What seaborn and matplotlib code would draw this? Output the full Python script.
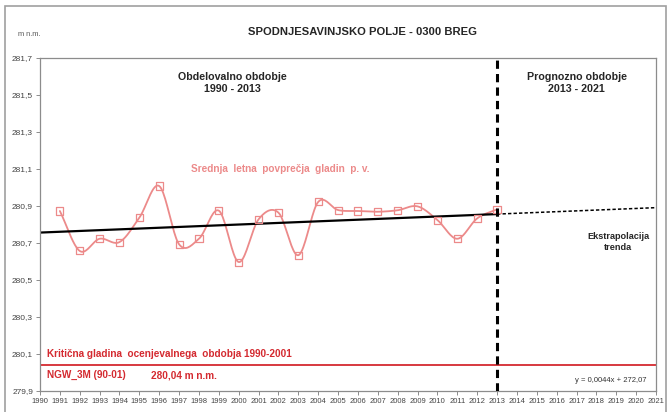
import numpy as np
import pandas as pd
import matplotlib
matplotlib.use("Agg")
import matplotlib.pyplot as plt
from matplotlib.patches import Rectangle
import seaborn as sns

# yearly mean groundwater level (m n.m.)
years = [1991, 1992, 1993, 1994, 1995, 1996, 1997, 1998, 1999, 2000, 2001, 2002,
         2003, 2004, 2005, 2006, 2007, 2008, 2009, 2010, 2011, 2012, 2013]
levels = [280.873, 280.657, 280.723, 280.705, 280.837, 281.008, 280.693, 280.723,
          280.875, 280.597, 280.828, 280.864, 280.634, 280.922, 280.878, 280.873,
          280.869, 280.877, 280.898, 280.824, 280.723, 280.833, 280.882]

critical_level = 280.04
year_ticks = list(range(1990, 2022))
level_ticks = [279.9, 280.1, 280.3, 280.5, 280.7, 280.9, 281.1, 281.3, 281.5, 281.7]

series_color = "#ec8a8a"
crit_color = "#d42a30"
gray = "#8c8c8c"


def smooth_curve(x, y, steps=20):
    """Catmull-Rom smoothing, similar to Excel's smoothed line."""
    x = np.asarray(x, float)
    y = np.asarray(y, float)
    px = np.concatenate([[2 * x[0] - x[1]], x, [2 * x[-1] - x[-2]]])
    py = np.concatenate([[2 * y[0] - y[1]], y, [2 * y[-1] - y[-2]]])
    xs, ys = [], []
    t = np.linspace(0, 1, steps, endpoint=False)
    for i in range(1, len(px) - 2):
        for p, out in ((px, xs), (py, ys)):
            p0, p1, p2, p3 = p[i - 1], p[i], p[i + 1], p[i + 2]
            out.extend(0.5 * (2 * p1 + (-p0 + p2) * t
                              + (2 * p0 - 5 * p1 + 4 * p2 - p3) * t ** 2
                              + (-p0 + 3 * p1 - 3 * p2 + p3) * t ** 3))
    xs.append(x[-1])
    ys.append(y[-1])
    return np.array(xs), np.array(ys)


sns.set_style("white")
plt.rcParams["font.family"] = ["Liberation Sans", "DejaVu Sans"]

fig = plt.figure(figsize=(6.67, 4.12), dpi=100)
ax = fig.add_axes([40 / 667, 1 - 391 / 412, 616 / 667, 333 / 412])

# outer chart frame
fig.patches.append(Rectangle((5 / 667, -0.01), 661 / 667, 1 - 6 / 412 + 0.01,
                             transform=fig.transFigure, fill=False,
                             edgecolor="#a0a0a0", linewidth=1.2))

df = pd.DataFrame({"year": years, "level": levels})
sx, sy = smooth_curve(years, levels)
sns.lineplot(x=sx, y=sy, ax=ax, color=series_color, linewidth=1.3, sort=False)
sns.scatterplot(data=df, x="year", y="level", ax=ax, marker="s", s=26,
                facecolor="none", edgecolor=series_color, linewidth=0.9, zorder=3)

# linear trend, fitted over the observed period and extrapolated to 2021
slope, intercept = np.polyfit(years, levels, 1)
fit_x = np.array([1990, 2013])
ext_x = np.array([2013, 2021])
sns.lineplot(x=fit_x, y=slope * fit_x + intercept, ax=ax, color="black", linewidth=1.6)
ax.plot(ext_x, slope * ext_x + intercept, color="black", linewidth=1.1,
        linestyle=(0, (2.2, 1.4)))

# split between the two periods
ax.axvline(2013, color="black", linewidth=2.2, linestyle=(0, (2.7, 1.7)), zorder=4)

# critical level
ax.axhline(critical_level, color=crit_color, linewidth=1.3)

ax.set_xlim(1990, 2021)
ax.set_ylim(279.9, 281.7)
ax.set_xticks(year_ticks)
ax.set_xticklabels([str(y) for y in year_ticks], fontsize=5.5, color="#444444")
ax.set_yticks(level_ticks)
ax.set_yticklabels([f"{v:.1f}".replace(".", ",") for v in level_ticks],
                   fontsize=6, color="#444444")
ax.tick_params(axis="both", length=3, width=0.7, color=gray, pad=2, direction="out")
ax.tick_params(axis="x", bottom=True)
ax.tick_params(axis="y", left=True)
for sp in ax.spines.values():
    sp.set_color(gray)
    sp.set_linewidth(0.9)
ax.set_xlabel("")
ax.set_ylabel("")

fig.text(363 / 667, 1 - 32 / 412, "SPODNJESAVINJSKO POLJE - 0300 BREG",
         ha="center", va="center", fontsize=8.1, fontweight="bold")
fig.text(29 / 667, 1 - 35 / 412, "m n.m.", ha="center", va="center",
         fontsize=5.3, color="#555555")

ax.text(1999.7, 281.565, "Obdelovalno obdobje\n1990 - 2013", ha="center", va="center",
        fontsize=7.7, fontweight="bold", linespacing=1.3)
ax.text(2017.0, 281.565, "Prognozno obdobje\n2013 - 2021", ha="center", va="center",
        fontsize=7.7, fontweight="bold", linespacing=1.3)
ax.text(2019.1, 280.705, "Ekstrapolacija\ntrenda", ha="center", va="center",
        fontsize=6.6, fontweight="bold", linespacing=1.2)
ax.text(1997.6, 281.1, "Srednja  letna  povprečja  gladin  p. v.",
        ha="left", va="center", fontsize=7.2, fontweight="bold", color=series_color)

ax.text(1990.35, 280.1, "Kritična gladina  ocenjevalnega  obdobja 1990-2001",
        ha="left", va="center", fontsize=7.2, fontweight="bold", color=crit_color)
ax.text(1990.35, 279.985, "NGW_3M (90-01)", ha="left", va="center",
        fontsize=7.2, fontweight="bold", color=crit_color)
ax.text(1995.6, 279.985, "280,04 m n.m.", ha="left", va="center",
        fontsize=7.2, fontweight="bold", color=crit_color)
ax.text(2020.5, 279.955, "y = 0,0044x + 272,07", ha="right", va="center",
        fontsize=5.5, color="#333333")

fig.savefig("out.png", dpi=100)
